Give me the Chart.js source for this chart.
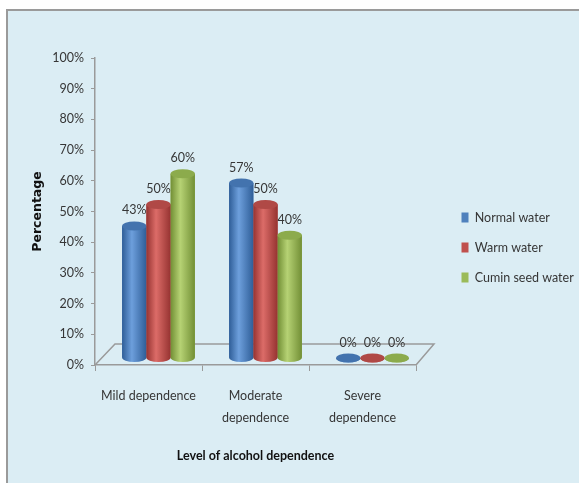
<!DOCTYPE html>
<html>
<head>
<meta charset="utf-8">
<script src="https://cdn.jsdelivr.net/npm/chart.js@4.4.0/dist/chart.umd.min.js"></script>
<style>
    html, body { margin: 0; padding: 0; background: #fff; overflow: hidden; }
    #frame {
        position: absolute; left: 6px; top: 9px; right: -12px; bottom: -12px;
        border: 2px solid #9a9a9a; background: #dbedf4;
    }
    #alcohol-chart { position: absolute; left: 0; top: 0; }
</style>
</head>
<body>
<div id="frame"></div>
<canvas id="alcohol-chart" width="579" height="483"></canvas>
<script>
const categories = ['Mild dependence', ['Moderate', 'dependence'], ['Severe', 'dependence']];
const normalWater = [43, 57, 0];
const warmWater = [50, 50, 0];
const cuminSeedWater = [60, 40, 0];
const yTicks = [0, 10, 20, 30, 40, 50, 60, 70, 80, 90, 100];

const face = 'Lato, "Liberation Sans", sans-serif';
const axisGray = '#9a9a9a';
const textGray = '#363636';

// colours for the cylinder look: body edge, body highlight, cap
const shades = [
    { base: '#4f81bd', dark: '#2f5e98', light: '#6d9fdc', cap: '#4373ae' },
    { base: '#c0504d', dark: '#963331', light: '#dc6c68', cap: '#b04946' },
    { base: '#9bbb59', dark: '#728f35', light: '#b6d274', cap: '#8cab4c' }
];

// fake 3D depth of the plot
const depthX = 10, depthY = -7;

const cylinders = {
    id: 'cylinders',
    afterLayout(chart) {
        // push the legend to where Excel put it
        const lg = chart.legend;
        lg.left += 28; lg.right += 28;
        lg.top -= 23; lg.bottom -= 23;
    },
    beforeDatasetsDraw(chart) {
        const { ctx, chartArea: a } = chart;
        ctx.save();
        ctx.strokeStyle = axisGray;
        ctx.lineWidth = 1.5;
        ctx.beginPath();
        ctx.moveTo(a.left, a.bottom);
        ctx.lineTo(a.left + 20, a.bottom - 21);
        ctx.lineTo(a.right + 18, a.bottom - 21);
        ctx.lineTo(a.right, a.bottom);
        ctx.stroke();
        ctx.restore();
        ctx.save();
        ctx.translate(depthX, depthY);
    },
    afterDatasetsDraw(chart) {
        const ctx = chart.ctx;
        chart.data.datasets.forEach((ds, di) => {
            const col = shades[di];
            chart.getDatasetMeta(di).data.forEach((bar, i) => {
                const { x, y, base, width } = bar.getProps(['x', 'y', 'base', 'width'], true);
                const rx = width / 2, ry = 4.5;
                const g = ctx.createLinearGradient(x - rx, 0, x + rx, 0);
                g.addColorStop(0, col.dark);
                g.addColorStop(0.4, col.light);
                g.addColorStop(1, col.dark);
                ctx.fillStyle = g;
                ctx.beginPath();
                ctx.moveTo(x - rx, y);
                ctx.lineTo(x - rx, base);
                ctx.ellipse(x, base, rx, ry, 0, Math.PI, 0, true);
                ctx.lineTo(x + rx, y);
                ctx.closePath();
                ctx.fill();
                ctx.fillStyle = col.cap;
                ctx.beginPath();
                ctx.ellipse(x, y, rx, ry, 0, 0, Math.PI * 2);
                ctx.fill();

                ctx.fillStyle = textGray;
                ctx.font = '12.5px ' + face;
                ctx.textAlign = 'center';
                ctx.textBaseline = 'alphabetic';
                ctx.fillText(ds.data[i] + '%', x, y - ry - 7);
            });
        });
        ctx.restore();
    }
};

new Chart(document.getElementById('alcohol-chart'), {
    type: 'bar',
    data: {
        labels: categories,
        datasets: [
            { label: 'Normal water', data: normalWater, backgroundColor: shades[0].base },
            { label: 'Warm water', data: warmWater, backgroundColor: shades[1].base },
            { label: 'Cumin seed water', data: cuminSeedWater, backgroundColor: shades[2].base }
        ]
    },
    options: {
        responsive: false,
        animation: false,
        devicePixelRatio: 1,
        layout: { padding: { left: 28, top: 58, right: 33, bottom: 0 } },
        datasets: { bar: { categoryPercentage: 0.68, barPercentage: 1, borderWidth: 0 } },
        plugins: {
            legend: {
                position: 'right',
                maxWidth: 130,
                labels: {
                    boxWidth: 7,
                    boxHeight: 10,
                    padding: 17.5,
                    color: textGray,
                    font: { family: face, size: 12.5 }
                }
            },
            tooltip: { enabled: false }
        },
        scales: {
            x: {
                afterFit: s => { s.height = 118; },
                grid: { display: true, offset: true, drawOnChartArea: false, tickLength: 6, color: axisGray },
                border: { display: true, color: axisGray, width: 1.5 },
                ticks: {
                    color: textGray,
                    padding: 14,
                    autoSkip: false,
                    maxRotation: 0,
                    minRotation: 0,
                    font: { family: face, size: 12.5, lineHeight: '22px' }
                },
                title: {
                    display: true,
                    text: 'Level of alcohol dependence',
                    color: '#111',
                    padding: { top: 4, bottom: 20 },
                    font: { family: face, size: 12.5, weight: 'bold' }
                }
            },
            y: {
                min: 0,
                max: 100,
                afterFit: s => { s.width = 67; },
                afterBuildTicks: s => { s.ticks = yTicks.map(v => ({ value: v })); },
                grid: { display: true, drawOnChartArea: false, tickLength: 4, color: axisGray },
                border: { display: true, color: axisGray, width: 1.5 },
                ticks: {
                    color: textGray,
                    padding: 7,
                    font: { family: face, size: 12.5 },
                    callback: v => v + '%'
                },
                title: {
                    display: true,
                    text: 'Percentage',
                    color: '#111',
                    padding: { top: 2, bottom: 0 },
                    font: { family: '"DejaVu Sans", sans-serif', size: 12.5, weight: 'bold' }
                }
            }
        }
    },
    plugins: [cylinders]
});
</script>
</body>
</html>
